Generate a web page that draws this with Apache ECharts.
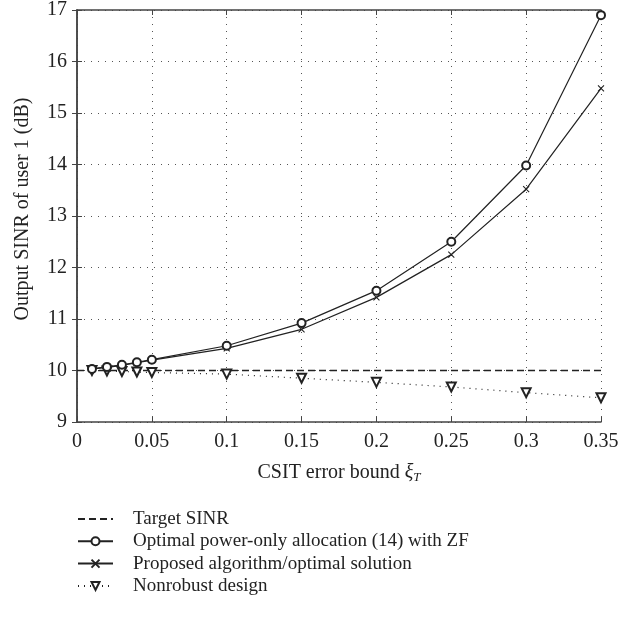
<!DOCTYPE html>
<html><head><meta charset="utf-8">
<script src="https://cdn.jsdelivr.net/npm/echarts@6/dist/echarts.min.js"></script>
<style>html,body{margin:0;padding:0;background:#fff}#c{width:641px;height:617px}</style>
</head><body><div id="c"></div>
<script>
const xValues = [0.01, 0.02, 0.03, 0.04, 0.05, 0.10, 0.15, 0.20, 0.25, 0.30, 0.35];
const optimalPower = [10.03, 10.07, 10.11, 10.16, 10.21, 10.48, 10.92, 11.55, 12.50, 13.98, 16.90];
const proposed = [10.03, 10.06, 10.10, 10.15, 10.20, 10.43, 10.80, 11.42, 12.25, 13.52, 15.48];
const nonrobust = [10.00, 9.99, 9.98, 9.97, 9.96, 9.93, 9.85, 9.77, 9.68, 9.57, 9.47];
const targetX = [0, 0.35];
const targetY = [10, 10];
const seriesNames = ['Target SINR', 'Optimal power-only allocation (14) with ZF', 'Proposed algorithm/optimal solution', 'Nonrobust design'];

const pair = (xs, ys) => xs.map((x, i) => [x, ys[i]]);
const FONT = 'Liberation Serif';
const INK = '#222';
const FS = 20;

const chart = echarts.init(document.getElementById('c'));
chart.setOption({
  animation: false,
  textStyle: { fontFamily: FONT },
  grid: { left: 77, right: 40, top: 5, bottom: 195 },
  xAxis: [{
    type: 'value', min: 0, max: 0.35, interval: 0.05,
    axisLine: { lineStyle: { color: '#444', width: 1.5 } },
    axisTick: { inside: true, length: 5, lineStyle: { color: '#444' } },
    axisLabel: { color: INK, fontSize: FS, fontFamily: FONT, margin: 10,
      formatter: v => (v === 0 ? '0' : String(+v.toFixed(2))) },
    splitLine: { show: true, lineStyle: { type: [1, 6], color: '#555', width: 1 } },
    name: '{n|CSIT error bound }{x|ξ}{s|T}', nameLocation: 'middle', nameGap: 40,
    nameTextStyle: { verticalAlign: 'top', rich: {
      n: { fontSize: FS, fontFamily: FONT, color: INK },
      x: { fontSize: FS, fontFamily: FONT, color: INK, fontStyle: 'italic' },
      s: { fontSize: 13, fontFamily: FONT, color: INK, fontStyle: 'italic', verticalAlign: 'bottom', padding: [9, 0, 0, 0] }
    } }
  }, {
    type: 'value', position: 'top', min: 0, max: 0.35, interval: 0.05,
    axisLine: { show: true, onZero: false, lineStyle: { color: '#444', width: 1.5 } },
    axisTick: { show: true, inside: true, length: 5, lineStyle: { color: '#444' } },
    axisLabel: { show: false }, splitLine: { show: false }
  }],
  yAxis: [{
    type: 'value', min: 9, max: 17, interval: 1,
    axisLine: { show: true, lineStyle: { color: '#444', width: 1.5 } },
    axisTick: { show: true, inside: true, length: 5, lineStyle: { color: '#444' } },
    axisLabel: { color: INK, fontSize: FS, fontFamily: FONT, margin: 10 },
    splitLine: { show: true, lineStyle: { type: [1, 6], color: '#555', width: 1 } },
    name: 'Output SINR of user 1 (dB)', nameLocation: 'middle', nameGap: 44,
    nameTextStyle: { fontSize: FS, fontFamily: FONT, color: INK, verticalAlign: 'bottom', padding: [0, 0, 0, 14] }
  }, {
    type: 'value', position: 'right', min: 9, max: 17, interval: 1,
    axisLine: { show: true, lineStyle: { color: '#444', width: 1.5 } },
    axisTick: { show: true, inside: true, length: 5, lineStyle: { color: '#444' } },
    axisLabel: { show: false }, splitLine: { show: false }
  }],
  legend: {
    orient: 'vertical', left: 77, top: 508, padding: 0, itemWidth: 35, itemHeight: 10, itemGap: 0.3,
    textStyle: { fontSize: 19, lineHeight: 22, fontFamily: FONT, color: INK, padding: [0, 0, 0, 15] },
    data: [
      { name: seriesNames[0], itemStyle: { opacity: 0 } },
      seriesNames[1], seriesNames[2], seriesNames[3]
    ]
  },
  series: [{
    name: seriesNames[0], type: 'line', data: pair(targetX, targetY), showSymbol: false, symbol: 'none',
    lineStyle: { color: '#222', width: 1.4, type: [7, 4] }, itemStyle: { color: '#222' }, z: 2
  }, {
    name: seriesNames[1], type: 'line', data: pair(xValues, optimalPower),
    symbol: 'emptyCircle', symbolSize: 8,
    lineStyle: { color: INK, width: 1.2 }, itemStyle: { color: INK, borderColor: INK, borderWidth: 1.1 }, z: 4
  }, {
    name: seriesNames[2], type: 'line', data: pair(xValues, proposed),
    symbol: 'path://M0,0L10,10M10,0L0,10', symbolSize: 6,
    lineStyle: { color: INK, width: 1.2 }, itemStyle: { color: INK, borderColor: INK, borderWidth: 1.1 }, z: 3
  }, {
    name: seriesNames[3], type: 'line', data: pair(xValues, nonrobust),
    symbol: 'emptyTriangle', symbolSize: 9, symbolRotate: 180,
    lineStyle: { color: INK, width: 1.2, type: [1, 5] }, itemStyle: { color: INK, borderColor: INK, borderWidth: 1.1 }, z: 3
  }]
});
</script></body></html>
